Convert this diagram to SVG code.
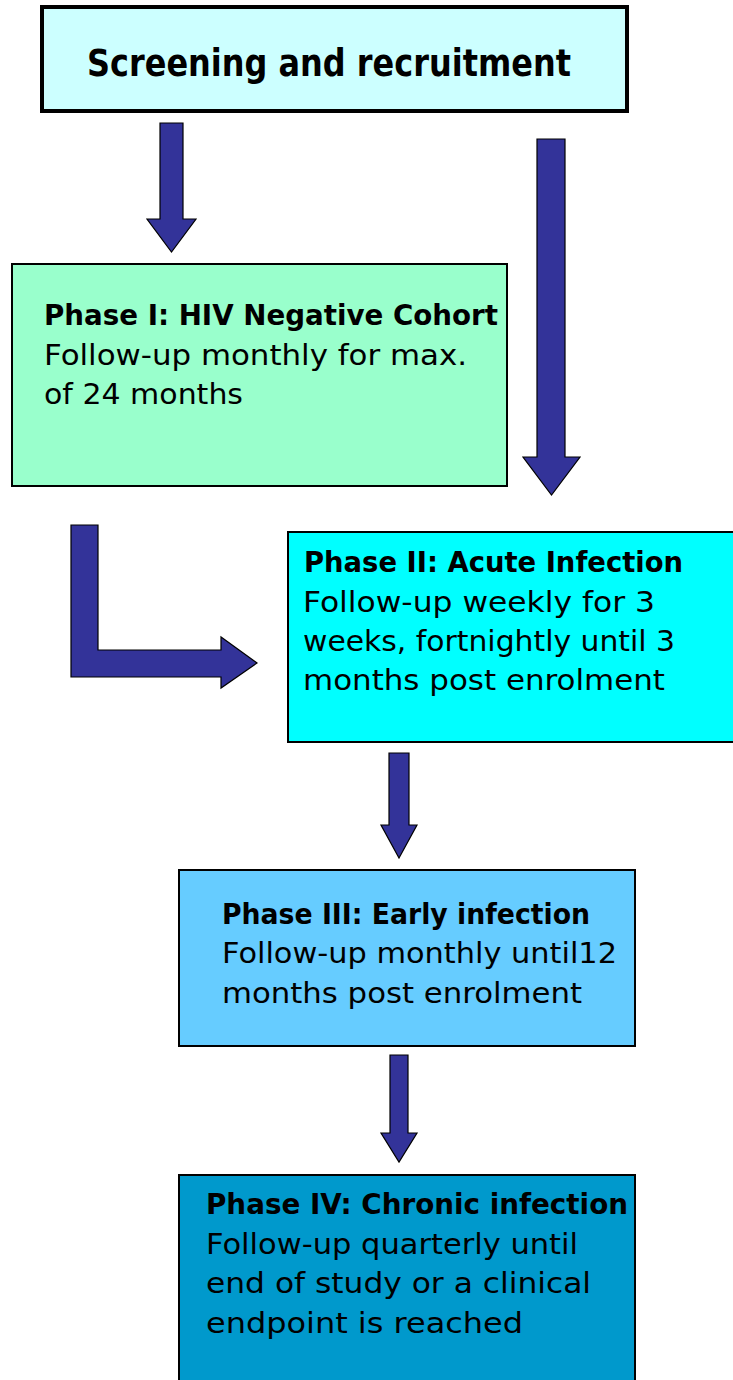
<svg xmlns="http://www.w3.org/2000/svg" width="733" height="1380" viewBox="0 0 733 1380">
<style>
.box{stroke:#000;stroke-width:2}
.arr{fill:#333399;stroke:#000;stroke-width:1.2}
text{font-family:"DejaVu Sans","Liberation Sans",sans-serif;fill:#000}
.b{font-weight:bold;font-size:29px}
.r{font-size:29px}
</style>
<rect width="733" height="1380" fill="#fff"/>
<g id="connectors">
<polygon class="arr" points="160,123 183,123 183,219 196,219 171.5,252 147,219 160,219"/>
<polygon class="arr" points="537,139 565,139 565,457 580,457 551.5,495 523,457 537,457"/>
<polygon class="arr" points="71,525 98,525 98,650 221,650 221,637 257,663 221,688 221,677 71,677"/>
<polygon class="arr" points="389,753 409,753 409,825 417,825 399,858 381,825 389,825"/>
<polygon class="arr" points="390,1055 408,1055 408,1133 417,1133 399,1162 381,1133 390,1133"/>
</g>
<g id="screening">
<rect x="42" y="7" width="585" height="104" fill="#CCFFFF" stroke="#000" stroke-width="4"/>
<text class="b" x="87" y="76" style="font-size:37px" textLength="484" lengthAdjust="spacingAndGlyphs">Screening and recruitment</text>
</g>
<g id="phase1">
<rect class="box" x="12" y="264" width="495" height="222" fill="#99FFCC"/>
<text class="b" x="44" y="325" textLength="454" lengthAdjust="spacingAndGlyphs">Phase I: HIV Negative Cohort</text>
<text class="r" x="44" y="365" textLength="423" lengthAdjust="spacingAndGlyphs">Follow-up monthly for max.</text>
<text class="r" x="44" y="404" textLength="199" lengthAdjust="spacingAndGlyphs">of 24 months</text>
</g>
<g id="phase2">
<rect class="box" x="288" y="532" width="450" height="210" fill="#00FFFF"/>
<text class="b" x="304" y="572" textLength="379" lengthAdjust="spacingAndGlyphs">Phase II: Acute Infection</text>
<text class="r" x="303" y="612" textLength="352" lengthAdjust="spacingAndGlyphs">Follow-up weekly for 3</text>
<text class="r" x="303" y="651" textLength="372" lengthAdjust="spacingAndGlyphs">weeks, fortnightly until 3</text>
<text class="r" x="303" y="690" textLength="362" lengthAdjust="spacingAndGlyphs">months post enrolment</text>
</g>
<g id="phase3">
<rect class="box" x="179" y="870" width="456" height="176" fill="#66CCFF"/>
<text class="b" x="222" y="924" textLength="368" lengthAdjust="spacingAndGlyphs">Phase III: Early infection</text>
<text class="r" x="222" y="963" textLength="395" lengthAdjust="spacingAndGlyphs">Follow-up monthly until12</text>
<text class="r" x="222" y="1003" textLength="360" lengthAdjust="spacingAndGlyphs">months post enrolment</text>
</g>
<g id="phase4">
<rect class="box" x="179" y="1175" width="456" height="215" fill="#0099CC"/>
<text class="b" x="206" y="1214" textLength="422" lengthAdjust="spacingAndGlyphs">Phase IV: Chronic infection</text>
<text class="r" x="206" y="1254" textLength="372" lengthAdjust="spacingAndGlyphs">Follow-up quarterly until</text>
<text class="r" x="206" y="1293" textLength="385" lengthAdjust="spacingAndGlyphs">end of study or a clinical</text>
<text class="r" x="206" y="1333" textLength="317" lengthAdjust="spacingAndGlyphs">endpoint is reached</text>
</g>
</svg>
